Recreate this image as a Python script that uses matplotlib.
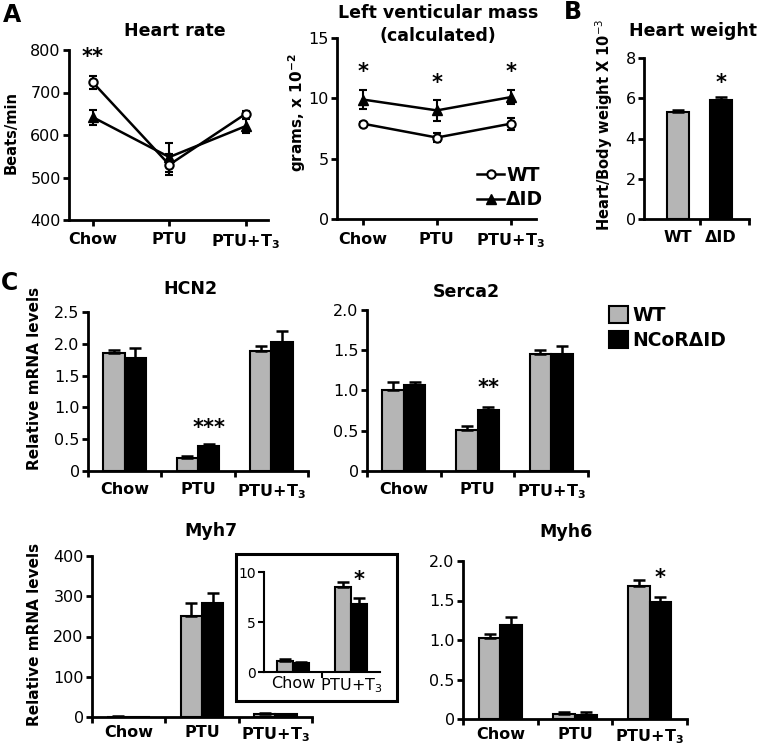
import numpy as np
import matplotlib.pyplot as plt
from matplotlib.lines import Line2D
from matplotlib.patches import Patch, Rectangle

plt.rcParams['font.family'] = 'DejaVu Sans'

W, H = 762, 747
GRAY = '#b5b5b5'

groups = ['Chow', 'PTU', r'PTU+T$_\mathbf{3}$']

# A - heart rate, beats/min
hr_wt = [724, 530, 650]
hr_wt_err = [16, 25, 6]
hr_id = [642, 548, 621]
hr_id_err = [18, 34, 16]

# A - left ventricular mass, grams x 10^-2
lv_wt = [7.9, 6.75, 7.9]
lv_wt_err = [0.15, 0.35, 0.5]
lv_id = [9.9, 9.0, 10.1]
lv_id_err = [0.8, 0.85, 0.6]

# B - heart / body weight x 10^-3
hw_groups = ['WT', 'ΔID']
hw_vals = [5.3, 5.9]
hw_err = [0.13, 0.17]

# C - relative mRNA levels (WT vs NCoR dID)
hcn2_wt = [1.85, 0.20, 1.89]
hcn2_wt_err = [0.05, 0.04, 0.07]
hcn2_ko = [1.78, 0.39, 2.03]
hcn2_ko_err = [0.15, 0.03, 0.17]

serca2_wt = [1.0, 0.51, 1.45]
serca2_wt_err = [0.11, 0.05, 0.05]
serca2_ko = [1.07, 0.755, 1.45]
serca2_ko_err = [0.04, 0.04, 0.10]

myh7_wt = [1.15, 250, 8.55]
myh7_wt_err = [0.15, 33, 0.5]
myh7_ko = [0.9, 284, 6.77]
myh7_ko_err = [0.1, 23, 0.6]
inset_groups = ['Chow', r'PTU+T$_3$']

myh6_wt = [1.02, 0.06, 1.68]
myh6_wt_err = [0.05, 0.03, 0.08]
myh6_ko = [1.19, 0.055, 1.48]
myh6_ko_err = [0.1, 0.03, 0.07]

rel_ticks = [0, 0.5, 1.0, 1.5, 2.0, 2.5]
rel_labels = ['0', '0.5', '1.0', '1.5', '2.0', '2.5']


fig = plt.figure(figsize=(W / 100, H / 100), dpi=100)


def add_ax(x0, y0, x1, y1):
    return fig.add_axes([x0 / W, 1 - y1 / H, (x1 - x0) / W, (y1 - y0) / H])


def ftext(px, py, s, **kw):
    kw.setdefault('ha', 'center')
    kw.setdefault('va', 'center')
    return fig.text(px / W, 1 - py / H, s, **kw)


def style(ax, lw=2.0, size=11.5):
    for s in ['top', 'right']:
        ax.spines[s].set_visible(False)
    for s in ['left', 'bottom']:
        ax.spines[s].set_linewidth(lw)
    ax.tick_params(width=lw, length=4, labelsize=size, pad=2)


def bar_panel(ax, wt, wt_err, ko, ko_err, top, yticks, yticklabels, labels,
              w=0.29, bold=True, size=11.5, pad=8):
    x = np.arange(len(wt))
    ekw = dict(ecolor='k', elinewidth=1.8, capsize=4, capthick=1.8)
    ax.bar(x - w / 2, wt, w, color=GRAY, edgecolor='k', linewidth=1.5,
           yerr=[np.zeros(len(x)), wt_err], error_kw=ekw)
    ax.bar(x + w / 2, ko, w, color='k', edgecolor='k', linewidth=1.5,
           yerr=[np.zeros(len(x)), ko_err], error_kw=ekw)
    ax.set_xlim(-0.5, len(x) - 0.5)
    ax.set_ylim(0, top)
    ax.set_xticks(np.arange(len(x) + 1) - 0.5)
    ax.set_xticklabels([])
    ax.set_xticks(x, minor=True)
    ax.set_xticklabels(labels, minor=True, fontweight='bold' if bold else 'normal',
                       fontsize=size)
    ax.tick_params(axis='x', which='minor', length=0, pad=pad)
    ax.set_yticks(yticks)
    ax.set_yticklabels(yticklabels)


def star(ax, x, y, s):
    ax.text(x, y, s, ha='center', va='center', fontsize=15, fontweight='bold')


# ---------- A: heart rate
ax = add_ax(69, 50, 268, 220)
style(ax)
x = np.arange(3)
ekw = dict(color='k', lw=1.8, capsize=3, capthick=1.5, elinewidth=1.5)
ax.errorbar(x, hr_id, yerr=hr_id_err, fmt='-^', ms=7.5, mfc='k', mec='k', **ekw)
ax.errorbar(x, hr_wt, yerr=hr_wt_err, fmt='-o', ms=6, mfc='white', mec='k', mew=1.5, **ekw)
ax.set_xlim(-0.31, 2.29)
ax.set_ylim(400, 800)
ax.set_yticks([400, 500, 600, 700, 800])
ax.set_xticks(x)
ax.set_xticklabels(groups, fontweight='bold', fontsize=11.5)
ax.tick_params(axis='x', pad=5)
star(ax, 0, 783, '**')
ftext(175, 31, 'Heart rate', fontsize=12.5, fontweight='bold')
ftext(11, 132, 'Beats/min', rotation=90, fontsize=10.5, fontweight='bold')

# ---------- A: LV mass
ax = add_ax(337, 38, 536, 219)
style(ax)
ax.errorbar(x, lv_id, yerr=lv_id_err, fmt='-^', ms=7.5, mfc='k', mec='k', **ekw)
ax.errorbar(x, lv_wt, yerr=lv_wt_err, fmt='-o', ms=6, mfc='white', mec='k', mew=1.5, **ekw)
ax.set_xlim(-0.35, 2.34)
ax.set_ylim(0, 15)
ax.set_yticks([0, 5, 10, 15])
ax.set_xticks(x)
ax.set_xticklabels(groups, fontweight='bold', fontsize=11.5)
ax.tick_params(axis='x', pad=5)
for xi, yi in zip(x, [12.2, 11.25, 12.2]):
    star(ax, xi, yi, '*')
handles = [Line2D([], [], color='k', lw=1.8, marker='o', ms=6, mfc='white', mec='k', mew=1.5),
           Line2D([], [], color='k', lw=1.8, marker='^', ms=7.5, mfc='k', mec='k')]
ax.legend(handles, ['WT', 'ΔID'], loc='upper left', bbox_to_anchor=(477 / W, 1 - 166 / H),
          bbox_transform=fig.transFigure, frameon=False, borderpad=0, borderaxespad=0,
          handlelength=1.45, handletextpad=0.1, labelspacing=0.28,
          prop=dict(weight='bold', size=13.5))
ftext(438, 13, 'Left venticular mass', fontsize=12.5, fontweight='bold')
ftext(438, 36, '(calculated)', fontsize=12.5, fontweight='bold')
ftext(297, 113, r'grams, x 10$^{\mathbf{-2}}$', rotation=90, fontsize=11, fontweight='bold')

# ---------- B: heart weight
ax = add_ax(644, 58, 749, 219)
style(ax)
xb = np.arange(len(hw_vals))
ax.bar(xb, hw_vals, 0.5, color=[GRAY, 'k'], edgecolor='k', linewidth=1.5,
       yerr=[np.zeros(len(xb)), hw_err],
       error_kw=dict(ecolor='k', elinewidth=1.8, capsize=4, capthick=1.8))
ax.set_xlim(-0.79, 1.65)
ax.set_ylim(0, 8)
ax.set_yticks([0, 2, 4, 6, 8])
ax.set_xticks([0.5, 1.65])
ax.set_xticklabels([])
ax.set_xticks(xb, minor=True)
ax.set_xticklabels(hw_groups, minor=True, fontweight='bold', fontsize=11.5)
ax.tick_params(axis='x', which='minor', length=0, pad=8)
star(ax, 1, 6.75, '*')
ftext(693, 31, 'Heart weight', fontsize=12.5, fontweight='bold')
ftext(604, 125, r'Heart/Body weight X 10$^{-3}$', rotation=90, fontsize=10.5, fontweight='bold')

# ---------- C: HCN2
ax = add_ax(88, 312, 308, 471)
style(ax)
bar_panel(ax, hcn2_wt, hcn2_wt_err, hcn2_ko, hcn2_ko_err, 2.5, rel_ticks, rel_labels, groups)
star(ax, 1.145, 0.68, '***')
ftext(190, 289, 'HCN2', fontsize=12.5, fontweight='bold')
ftext(35, 378, 'Relative mRNA levels', rotation=90, fontsize=11, fontweight='bold')

# ---------- C: Serca2
ax = add_ax(367, 310, 588, 471)
style(ax)
bar_panel(ax, serca2_wt, serca2_wt_err, serca2_ko, serca2_ko_err, 2.0,
          rel_ticks[:5], rel_labels[:5], groups)
star(ax, 1.145, 1.03, '**')
ftext(466, 292, 'Serca2', fontsize=12.5, fontweight='bold')

fig.legend([Patch(facecolor=GRAY, edgecolor='k', lw=1.5), Patch(facecolor='k', edgecolor='k', lw=1.5)],
           ['WT', 'NCoRΔID'], loc='upper left', bbox_to_anchor=(609 / W, 1 - 306 / H),
           frameon=False, borderpad=0, borderaxespad=0, handlelength=1.0, handleheight=1.0,
           handletextpad=0.25, labelspacing=0.3, prop=dict(weight='bold', size=13.5))

# ---------- C: Myh7
ax = add_ax(92, 556, 312, 717)
style(ax)
bar_panel(ax, myh7_wt, myh7_wt_err, myh7_ko, myh7_ko_err, 400,
          [0, 100, 200, 300, 400], ['0', '100', '200', '300', '400'], groups, pad=6)
ftext(211, 531, 'Myh7', fontsize=12.5, fontweight='bold')
ftext(35, 634, 'Relative mRNA levels', rotation=90, fontsize=11, fontweight='bold')

# inset (Chow and PTU+T3 only)
fig.patches.append(Rectangle((236 / W, 1 - 701 / H), (397 - 236) / W, (701 - 554) / H,
                             transform=fig.transFigure, fill=False, edgecolor='k', lw=2.2))
ax = add_ax(264, 572, 380, 672)
style(ax, lw=1.5, size=10)
idx = [0, 2]
bar_panel(ax, [myh7_wt[i] for i in idx], [myh7_wt_err[i] for i in idx],
          [myh7_ko[i] for i in idx], [myh7_ko_err[i] for i in idx], 10,
          [0, 5, 10], ['0', '5', '10'], inset_groups, w=0.28, bold=False, size=11.5, pad=3)
ax.set_xticks([0.5])
star(ax, 1.14, 9.2, '*')

# ---------- C: Myh6
ax = add_ax(463, 561, 687, 719)
style(ax)
bar_panel(ax, myh6_wt, myh6_wt_err, myh6_ko, myh6_ko_err, 2.0,
          rel_ticks[:5], rel_labels[:5], groups, pad=6)
star(ax, 2.145, 1.78, '*')
ftext(566, 532, 'Myh6', fontsize=12.5, fontweight='bold')

# panel letters
ftext(12, 15, 'A', fontsize=17, fontweight='bold')
ftext(573, 12, 'B', fontsize=17, fontweight='bold')
ftext(10, 283, 'C', fontsize=17, fontweight='bold')

fig.savefig('out.png', dpi=100)
